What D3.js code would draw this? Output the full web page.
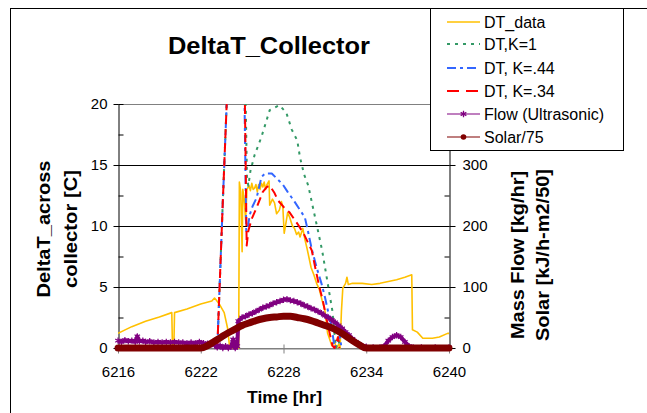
<!DOCTYPE html>
<html><head><meta charset="utf-8">
<script src="https://cdn.jsdelivr.net/npm/d3@7"></script>
<style>
html,body{margin:0;padding:0;background:#fff;}
svg{display:block;font-family:"Liberation Sans",Arial,sans-serif;}
</style></head>
<body><svg id="c" width="647" height="413"></svg>
<script>
// ---------- data ----------
const xTicks = [6216, 6222, 6228, 6234, 6240];
const yLeftTicks = [0, 5, 10, 15, 20];
const yRightTicks = [0, 100, 200, 300];
const seriesNames = ["DT_data", "DT,K=1", "DT, K=.44", "DT, K=.34", "Flow (Ultrasonic)", "Solar/75"];

const dtDataT = [6216.0,6217.0,6218.0,6219.0,6219.9,6219.95,6220.05,6220.1,6221.0,6222.0,6222.8,6223.0,6223.15,6223.4,6223.7,6223.95,6224.1,6224.75,6224.8,6224.9,6225.0,6225.05,6225.15,6225.25,6225.35,6225.5,6225.6,6225.7,6225.8,6225.9,6226.0,6226.1,6226.2,6226.3,6226.4,6226.5,6226.6,6226.7,6226.8,6226.95,6227.0,6227.2,6227.35,6227.5,6227.7,6227.85,6227.95,6228.05,6228.2,6228.3,6228.45,6228.65,6228.8,6228.95,6229.1,6229.2,6229.4,6229.55,6229.7,6229.85,6230.0,6230.2,6230.4,6230.6,6230.8,6231.0,6231.2,6231.5,6231.7,6231.85,6232.0,6232.1,6232.2,6232.3,6232.5,6232.6,6232.7,6233.0,6233.7,6234.4,6235.0,6235.6,6236.2,6236.8,6237.3,6237.35,6237.7,6238.1,6238.8,6239.3,6239.9,6240.0];
const dtDataV = [1.2,1.75,2.2,2.55,2.9,0,0,2.9,3.2,3.6,3.85,4.1,3.9,3.5,2.9,1.6,0,0,13.6,12.8,7.9,13.0,12.2,10.5,13.0,13.3,12.9,13.5,13.0,13.1,13.4,12.8,13.4,13.0,13.5,13.2,13.6,13.0,13.4,13.7,11.7,12.2,11.9,11.0,11.3,12.0,11.6,9.4,10.4,11.1,10.7,10.0,9.8,9.3,9.5,9.1,9.8,8.9,8.2,7.4,6.6,6.0,5.3,4.8,3.9,3.1,1.2,0.2,0.5,0,0.3,0,3.0,4.9,5.3,5.8,5.2,5.3,5.3,5.2,5.3,5.45,5.6,5.8,6.0,1.5,1.3,0.8,0.8,0.9,1.2,1.2];

const k1T = [6223.2,6223.6,6223.95,6224.5,6225.2,6225.35,6225.45,6225.6,6225.9,6226.4,6227.0,6227.7,6228.2,6228.6,6229.0,6229.2,6229.5,6229.8,6230.1,6230.5,6230.8,6231.1,6231.4,6231.55,6231.65,6231.8,6232.0,6232.1];
const k1V = [0,12,22,30,24,14.0,13.3,14.5,15.8,17.3,19.5,19.9,19.3,17.9,17.0,15.6,14.2,13.3,11.7,9.6,8.0,6.0,4.0,3.0,1.7,0,0.6,0];

const k44T = [6223.2,6223.6,6223.95,6224.5,6225.15,6225.3,6225.4,6225.55,6225.75,6226.05,6226.4,6226.65,6227.15,6227.6,6227.95,6228.3,6228.8,6229.2,6229.55,6229.75,6230.05,6230.4,6230.75,6231.0,6231.25,6231.5,6231.7,6232.1,6232.2];
const k44V = [0,12,22,30,22,9.6,9.8,10.9,11.6,12.3,14.0,14.3,14.3,13.8,13.4,12.8,12.0,11.3,10.7,9.7,8.1,6.6,5.3,4.2,2.9,1.7,0,1.0,0];

const k34T = [6223.2,6223.6,6223.95,6224.5,6225.18,6225.33,6225.45,6225.7,6226.05,6226.5,6226.8,6227.0,6227.35,6227.6,6228.05,6228.45,6229.0,6229.45,6229.75,6230.05,6230.3,6230.6,6230.85,6231.1,6231.35,6231.55,6231.7,6231.95,6232.05];
const k34V = [0,12,22,30,22,8.4,9.6,10.6,11.5,12.8,13.2,13.3,12.7,12.1,11.5,11.1,10.2,9.4,8.7,8.0,6.6,5.0,3.9,2.5,1.2,0.2,0,0.9,0];

const flowT = [6216.0,6216.25,6216.5,6216.75,6217.0,6217.25,6217.4,6217.55,6217.8,6218.0,6218.3,6218.6,6218.9,6219.2,6219.5,6219.8,6220.1,6220.4,6220.7,6221.0,6221.3,6221.6,6221.9,6222.2,6222.5,6222.8,6223.0,6223.2,6223.4,6223.6,6223.8,6224.0,6224.2,6224.35,6224.5,6224.65,6224.72,6225.0,6225.25,6225.5,6225.75,6226.0,6226.25,6226.5,6226.75,6227.0,6227.25,6227.5,6227.75,6228.0,6228.25,6228.5,6228.75,6229.0,6229.25,6229.5,6229.75,6230.0,6230.25,6230.5,6230.75,6231.0,6231.25,6231.5,6231.75,6232.0,6232.25,6232.5,6232.75,6233.0,6233.25,6233.5,6233.75,6234.0,6234.5,6235.0,6235.3,6235.6,6235.9,6236.2,6236.5,6236.8,6237.1,6237.4,6238.0,6239.0,6240.0];
const flowV = [12,10,13,11,12,10,19,11,12,10,11,9,10,9,10,9,10,9,9,8,9,8,10,8,7,6,5,1,4,0,3,0,2,14,0,3,44,50,52,55,57,60,63,66,68,70,73,75,77,79,80,78,77,75,73,70,68,65,63,60,57,53,50,46,42,37,32,26,21,15,10,6,3,2,1,1,3,12,18,21,18,10,3,1,1,1,1];

const solarT = [6216,6222,6222.5,6223,6223.5,6224,6224.5,6225,6225.5,6226,6226.5,6227,6227.5,6228,6228.5,6229,6229.5,6230,6230.5,6231,6231.5,6232,6232.5,6233,6233.5,6234,6240];
const solarV = [0,0,4,11,18,25,31,37,41,45,48,50,51,52,52,50,48,45,41,37,33,27,20,12,5,0,0];

const colors = ["#FFC000","#339966","#3366FF","#FF0000","#800080","#800000"];

// ---------- layout ----------
const svg = d3.select("#c");
const X0 = 118, X1 = 449, Y0 = 348, Y1 = 104;
const x = d3.scaleLinear().domain([6216, 6240]).range([X0, X1]);
const yL = d3.scaleLinear().domain([0, 20]).range([Y0, Y1]);
const yR = d3.scaleLinear().domain([0, 400]).range([Y0, Y1]);

// outer chart border
svg.append("rect").attr("x",10.5).attr("y",8.5).attr("width",1000).attr("height",1000)
  .attr("fill","#fff").attr("stroke","#000").attr("stroke-width",1);

// gridlines
svg.append("g").selectAll("line").data([5,10,15]).join("line")
  .attr("x1",X0).attr("x2",X1).attr("y1",d=>Math.round(yL(d))+0.5).attr("y2",d=>Math.round(yL(d))+0.5)
  .attr("stroke","#000");
// plot top & bottom borders
svg.append("line").attr("x1",X0).attr("x2",X1).attr("y1",Y1+0.5).attr("y2",Y1+0.5).attr("stroke","#808080");
svg.append("line").attr("x1",X0).attr("x2",X1).attr("y1",Y0+0.5).attr("y2",Y0+0.5).attr("stroke","#808080");

const tickFont = "15px";
function styleAxis(g, col){
  g.select(".domain").attr("stroke",col);
  g.selectAll(".tick line").attr("stroke",col);
  g.selectAll("text").attr("font-size",tickFont).attr("fill","#000").attr("font-family","'Liberation Sans',Arial,sans-serif");
}
// left axis
const gl = svg.append("g").attr("transform",`translate(${X0+0.5},0)`)
  .call(d3.axisLeft(yL).tickValues(yLeftTicks).tickSizeInner(5).tickSizeOuter(0).tickPadding(6));
styleAxis(gl,"#000");
svg.append("g").attr("transform",`translate(${X0+0.5},0)`)
  .call(d3.axisLeft(yL).tickValues(yLeftTicks).tickSize(-5).tickFormat(""))
  .call(g=>{g.select(".domain").remove(); g.selectAll("line").attr("stroke","#000");});
svg.append("g").attr("transform",`translate(${X0+0.5},0)`)
  .call(d3.axisLeft(yL).tickValues([2.5,7.5,12.5,17.5]).tickSize(-5).tickFormat(""))
  .call(g=>{g.select(".domain").remove(); g.selectAll("line").attr("stroke","#000");});

// right axis
const gr = svg.append("g").attr("transform",`translate(${X1+0.5},0)`)
  .call(d3.axisRight(yR).tickValues(yRightTicks).tickSizeInner(6).tickSizeOuter(0).tickPadding(7));
styleAxis(gr,"#000");
svg.append("g").attr("transform",`translate(${X1+0.5},0)`)
  .call(d3.axisRight(yR).tickValues([0,100,200,300,400]).tickSize(-5).tickFormat(""))
  .call(g=>{g.select(".domain").remove(); g.selectAll("line").attr("stroke","#000");});
svg.append("g").attr("transform",`translate(${X1+0.5},0)`)
  .call(d3.axisRight(yR).tickValues([50,150,250,350]).tickSize(-5).tickFormat(""))
  .call(g=>{g.select(".domain").remove(); g.selectAll("line").attr("stroke","#000");});

// bottom axis
const gb = svg.append("g").attr("transform",`translate(0,${Y0+0.5})`)
  .call(d3.axisBottom(x).tickValues(xTicks).tickFormat(d3.format("d")).tickSizeInner(5).tickSizeOuter(0).tickPadding(13));
styleAxis(gb,"#808080");
svg.append("g").attr("transform",`translate(0,${Y0+0.5})`)
  .call(d3.axisBottom(x).tickValues(xTicks).tickSize(-4).tickFormat(""))
  .call(g=>{g.select(".domain").remove(); g.selectAll("line").attr("stroke","#808080");});

// clip
svg.append("clipPath").attr("id","clipDT").append("rect")
  .attr("x",X0).attr("y",Y1).attr("width",X1-X0).attr("height",Y0-Y1+4);

const plot = svg.append("g");
function addLine(T, V, ys, color, width, dash, clip){
  const data = T.map((t,i)=>[t,V[i]]);
  const p = plot.append("path").datum(data)
    .attr("fill","none").attr("stroke",color).attr("stroke-width",width)
    .attr("stroke-linejoin","round")
    .attr("d", d3.line().x(d=>x(d[0])).y(d=>ys(d[1])));
  if (dash) p.attr("stroke-dasharray",dash);
  if (clip) p.attr("clip-path","url(#clipDT)");
  return data;
}
addLine(dtDataT, dtDataV, yL, colors[0], 1.6, null, true);
addLine(k1T, k1V, yL, colors[1], 2, "3,5", true);
addLine(k44T, k44V, yL, colors[2], 2, "9,4,3,4", true);
addLine(k34T, k34V, yL, colors[3], 2, "9,5", true);

// flow
const flowData = addLine(flowT, flowV, yR, colors[4], 4, null, false);
const star = d3.symbol().type(d3.symbolAsterisk).size(28);
plot.append("g").selectAll("path").data(flowData).join("path")
  .attr("d",star).attr("transform",d=>`translate(${x(d[0])},${yR(d[1])})`)
  .attr("fill","none").attr("stroke",colors[4]).attr("stroke-width",1.2);

// solar
const solarData = solarT.map((t,i)=>[t,solarV[i]]);
plot.append("path").datum(solarData)
  .attr("fill","none").attr("stroke",colors[5]).attr("stroke-width",7)
  .attr("stroke-linecap","round").attr("stroke-linejoin","round")
  .attr("d", d3.line().x(d=>x(d[0])).y(d=>yR(d[1])).curve(d3.curveMonotoneX));

// titles
svg.append("text").attr("x",269).attr("y",54).attr("text-anchor","middle")
  .attr("font-size","24px").attr("font-weight","bold").attr("textLength",202).attr("lengthAdjust","spacingAndGlyphs")
  .text("DeltaT_Collector");
svg.append("text").attr("x",284.5).attr("y",403).attr("text-anchor","middle")
  .attr("font-size","17px").attr("font-weight","bold").attr("textLength",75).attr("lengthAdjust","spacingAndGlyphs")
  .text("Time [hr]");
const leftTitle = [["DeltaT_across",50,137],["collector [C]",77,118]];
leftTitle.forEach(([t,xx,len])=>{
  svg.append("text").attr("transform",`translate(${xx},229) rotate(-90)`).attr("text-anchor","middle")
    .attr("font-size","18px").attr("font-weight","bold").attr("textLength",len).attr("lengthAdjust","spacingAndGlyphs").text(t);
});
const rightTitle = [["Mass Flow [kg/hr]",524,168],["Solar [kJ/h-m2/50]",549,172]];
rightTitle.forEach(([t,xx,len])=>{
  svg.append("text").attr("transform",`translate(${xx},255) rotate(-90)`).attr("text-anchor","middle")
    .attr("font-size","18px").attr("font-weight","bold").attr("textLength",len).attr("lengthAdjust","spacingAndGlyphs").text(t);
});

// legend
const lg = svg.append("g");
lg.append("rect").attr("x",430.5).attr("y",8.5).attr("width",193).attr("height",142)
  .attr("fill","#fff").attr("stroke","#000");
const legY = [22, 44, 68, 91, 114, 137];
const legDash = [null,"3,5","9,4,3,4","12,7",null,null];
const legW = [1.6,2,2,2,1.2,1.2];
seriesNames.forEach((n,i)=>{
  const row = lg.append("g").attr("transform",`translate(0,${legY[i]})`);
  const ln = row.append("line").attr("x1",447).attr("x2",480).attr("y1",0).attr("y2",0)
    .attr("stroke",colors[i]).attr("stroke-width",legW[i]);
  if (legDash[i]) ln.attr("stroke-dasharray",legDash[i]);
  if (i===4) row.append("path").attr("d",d3.symbol().type(d3.symbolAsterisk).size(30)).attr("transform","translate(463.5,0)")
    .attr("fill","none").attr("stroke",colors[4]).attr("stroke-width",1.3);
  if (i===5) row.append("circle").attr("cx",463.5).attr("cy",0).attr("r",2.8).attr("fill",colors[5]);
  row.append("text").attr("x",484).attr("y",0).attr("dy","0.36em").attr("font-size","16px").text(n);
});
</script></body></html>
